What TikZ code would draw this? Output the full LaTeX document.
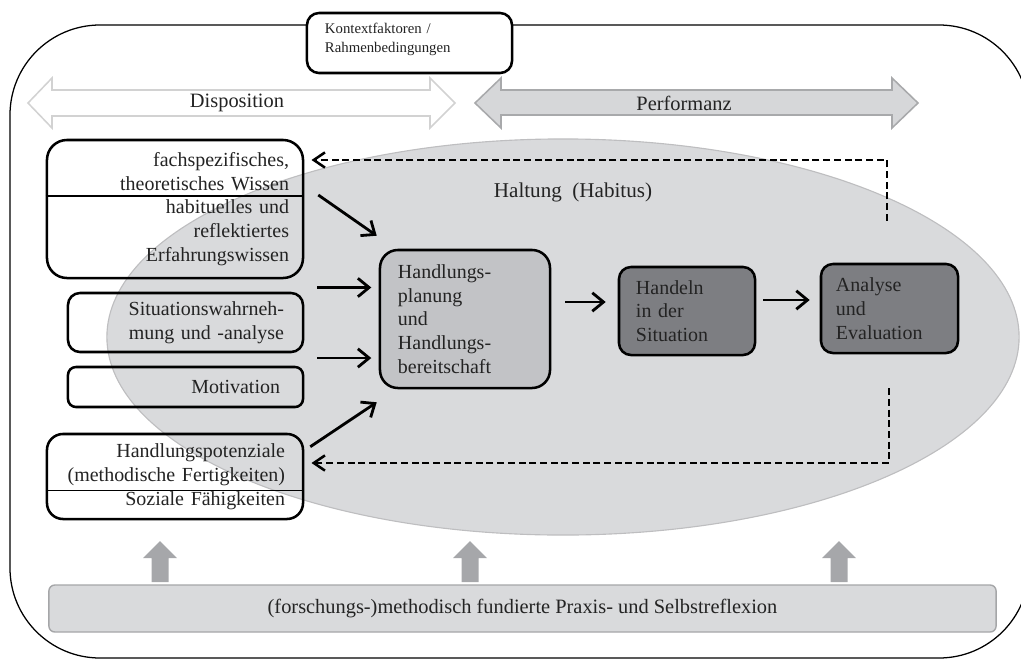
\documentclass[tikz,border=0pt]{standalone}
\usepackage{fontspec}
\setmainfont{Liberation Serif}
\usetikzlibrary{arrows.meta,calc,shapes.geometric}

\definecolor{habitusgray}{RGB}{217,218,220}
\definecolor{habitusline}{RGB}{190,190,192}
\definecolor{plangray}{RGB}{194,195,198}
\definecolor{actgray}{RGB}{125,126,130}
\definecolor{perfgray}{RGB}{214,215,217}
\definecolor{perfline}{RGB}{168,169,171}
\definecolor{displine}{RGB}{210,210,210}
\definecolor{barline}{RGB}{165,166,168}
\definecolor{upgray}{RGB}{166,167,170}
\definecolor{textgray}{RGB}{35,35,35}

\begin{document}
\begin{tikzpicture}[
    x=0.025cm, y=-0.025cm,
    lbox/.style={rectangle, draw, line width=1.8pt, rounded corners=0.3cm, inner xsep=0pt, align=right, text=textgray, font=\fontsize{14.2}{16.9}\selectfont},
    cbox/.style={rectangle, draw, line width=1.8pt, rounded corners=0.3cm, inner xsep=0pt, align=left, text=textgray, font=\fontsize{14.2}{16.9}\selectfont},
    lbl/.style={text=textgray, font=\fontsize{14.5}{17}\selectfont},
    arrow/.style={-{Straight Barb[length=2.8mm,width=4.6mm]}, line width=2pt},
    fback/.style={-{Straight Barb[length=2.8mm,width=3.8mm]}, line width=1.8pt, dash pattern=on 5pt off 2.6pt, shorten >=0.18cm},
    bigarrow/.style={line width=1.1pt, line join=miter},
    uparrow/.style={fill=upgray, draw=none}
]

\useasboundingbox (0,0) rectangle (1021,659);

% Frame
\draw[line width=0.9pt, rounded corners=2.25cm] (10,25) rectangle (1029,658);

% Haltung
\node[ellipse, fill=habitusgray, draw=habitusline, line width=0.8pt, minimum width=22.8cm, minimum height=9.9cm, inner sep=0pt] (habitus) at (563,337) {};
\node[lbl, font=\fontsize{15}{18}\selectfont] (haltung) at (573,192) {Haltung\ \ (Habitus)};

% Disposition / Performanz
\draw[bigarrow, draw=displine, fill=white] (28,103) -- (52,78) -- (52,90) -- (430,90) -- (430,78) -- (455,103) -- (430,128) -- (430,116) -- (52,116) -- (52,128) -- cycle;
\node[lbl] (dispo) at (237,103) {Disposition};
\draw[bigarrow, draw=perfline, fill=perfgray] (475,103) -- (501,78) -- (501,90) -- (892,90) -- (892,78) -- (918,103) -- (892,128) -- (892,115) -- (501,115) -- (501,128) -- cycle;
\node[lbl] (perf) at (684,103) {Performanz};

% Kontext
\node[cbox, fill=white, font=\fontsize{10.5}{13.5}\selectfont, minimum width=5.125cm, minimum height=1.5cm, text width=4.225cm] (kontext) at (409.5,43) {Kontextfaktoren /\\Rahmenbedingungen\\[-6.5pt]\mbox{}};

% Disposition side
\node[lbox, rounded corners=0.5cm, minimum width=6.4cm, minimum height=3.45cm, text width=5.7cm] (wissen) at (175,209) {fachspezifisches,\\theoretisches Wissen\\habituelles und\\reflektiertes\\Erfahrungswissen};
\draw[line width=1.3pt] ($(wissen.north west)!0.406!(wissen.south west)$) -- ($(wissen.north east)!0.406!(wissen.south east)$);
\node[lbox, minimum width=5.875cm, minimum height=1.475cm, text width=4.925cm] (situation) at (185.5,322.5) {Situationswahrneh-\\mung und -analyse};
\node[lbox, rounded corners=0.2cm, minimum width=5.875cm, minimum height=1cm, text width=4.725cm] (motivation) at (185.5,387) {Motivation};
\node[lbox, rounded corners=0.4cm, minimum width=6.4cm, minimum height=2.125cm, text width=5.5cm] (potenzial) at (175,476.5) {Handlungspotenziale\\(methodische Fertigkeiten)\\Soziale Fähigkeiten};
\draw[line width=1.3pt] ($(potenzial.north west)!0.66!(potenzial.south west)$) -- ($(potenzial.north east)!0.66!(potenzial.south east)$);

% Performanz side
\node[cbox, fill=plangray, rounded corners=0.45cm, minimum width=4.25cm, minimum height=3.45cm, text width=3.35cm] (planung) at (465,319) {Handlungs-\\planung\\und\\Handlungs-\\bereitschaft};
\node[cbox, fill=actgray, minimum width=3.4cm, minimum height=2.2cm, text width=2.55cm] (handeln) at (687,311) {Handeln\\in der\\Situation};
\node[cbox, fill=actgray, minimum width=3.425cm, minimum height=2.225cm, text width=2.675cm] (analyse) at (889.5,308.5) {Analyse\\und\\Evaluation};

% Arrows
\draw[arrow] ($(wissen.east)+(14,-14)$) -- ($(planung.north west)+(-2,-13)$);
\draw[arrow] ($(wissen.south east)!.5!(situation.north east)+(13,2)$) -- ++(54,0);
\draw[arrow] ($(situation.south east)!.5!(motivation.north east)+(13,-1.5)$) -- ++(54,0);
\draw[arrow] ($(potenzial.north east)+(6,14)$) -- ($(planung.south west)+(-2,13)$);
\draw[arrow] ($(planung.east)+(14,-17)$) -- ($(handeln.west)+(-12,-9)$);
\draw[arrow] ($(handeln.east)+(7,-11)$) -- ($(analyse.west)+(-10,-8.5)$);

% Feedback
\coordinate (fbtop) at (887,160);
\coordinate (fbbot) at (889,463);
\draw[fback] ($(analyse.north)+(-2.5,-42)$) -- (fbtop) -- (wissen.east |- fbtop);
\draw[fback] ($(analyse.south)+(-0.5,34)$) -- (fbbot) -- (potenzial.east |- fbbot);

% Reflexion
\node[rectangle, draw=barline, fill=habitusgray, line width=1pt, rounded corners=0.15cm, minimum width=23.675cm, minimum height=1.175cm, lbl] (reflexion) at (522.5,608.5) {(forschungs-)methodisch fundierte Praxis- und Selbstreflexion};
\fill[uparrow] (151.5,582) -- (151.5,558) -- (143,558) -- (160,541) -- (177,558) -- (168.5,558) -- (168.5,582) -- cycle;
\fill[uparrow] (461.5,582) -- (461.5,558) -- (453,558) -- (470,541) -- (487,558) -- (478.5,558) -- (478.5,582) -- cycle;
\fill[uparrow] (830.5,582) -- (830.5,558) -- (822,558) -- (839,541) -- (856,558) -- (847.5,558) -- (847.5,582) -- cycle;

\end{tikzpicture}
\end{document}
